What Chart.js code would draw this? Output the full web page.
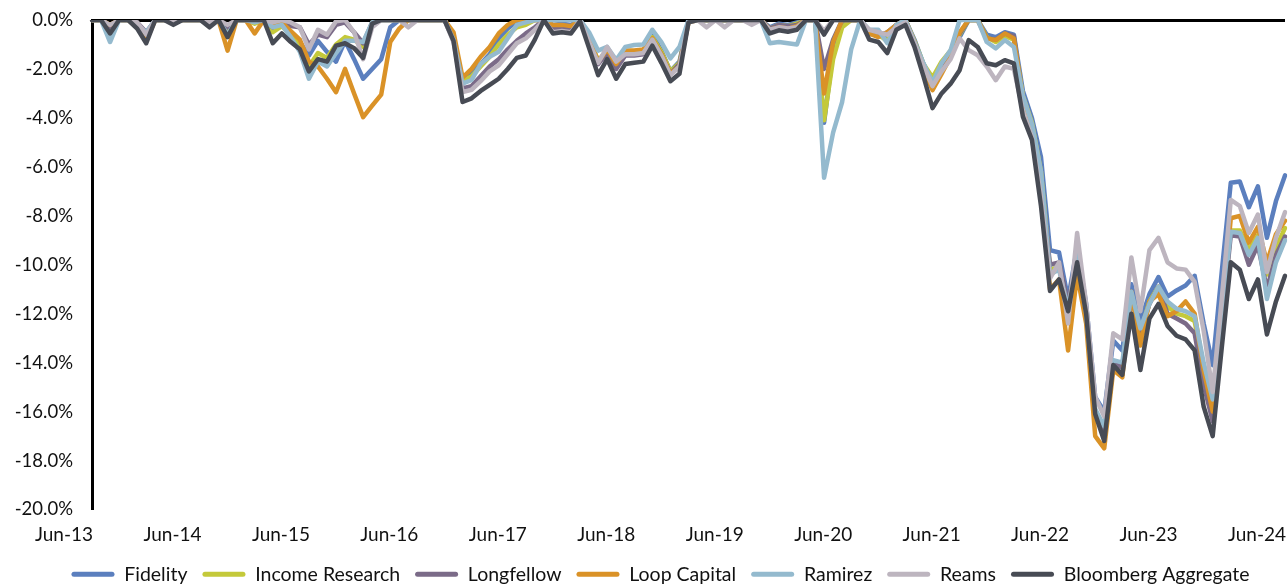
<!DOCTYPE html>
<html>
<head>
<meta charset="utf-8">
<script src="https://cdn.jsdelivr.net/npm/chart.js@4.4.1/dist/chart.umd.min.js"></script>
<style>
  html, body { margin: 0; padding: 0; background: #fff; }
  #wrap { width: 1288px; height: 586px; }
</style>
</head>
<body>
<div id="wrap"><canvas id="chart" width="1288" height="586"></canvas></div>
<script>
'use strict';

// monthly drawdown, Jun-13 .. Jun-24 (133 months)
const monthNames = ['Jan', 'Feb', 'Mar', 'Apr', 'May', 'Jun', 'Jul', 'Aug', 'Sep', 'Oct', 'Nov', 'Dec'];
const categories = [];
for (let m = 5; m <= 5 + 132; m++) {
  const yr = 13 + Math.floor(m / 12);
  categories.push(monthNames[m % 12] + '-' + yr);
}

const fidelity = [
  0, 0, -0.4, 0, 0, -0.2, -0.7, 0, 0, -0.1, 0, 0,
  0, -0.15, 0, -0.5, 0, 0, -0.1, 0, -0.35, -0.1, -0.6, -0.9,
  -1.45, -0.85, -1.3, -1.7, -0.85, -1.6, -2.4, -2.0, -1.6, -0.3, 0, 0,
  0, 0, 0, 0, -0.7, -2.55, -2.2, -1.8, -1.4, -0.75, -0.35, -0.05,
  0, 0, 0, -0.2, -0.15, -0.2, 0, -0.75, -1.7, -1.25, -1.85, -1.3,
  -1.3, -1.25, -0.6, -1.25, -2.1, -1.7, 0, 0, 0, 0, 0, 0,
  0, 0, 0, -0.3, -0.15, -0.2, -0.1, 0, 0, -4.2, -1.3, -0.2,
  0, 0, -0.45, -0.55, -0.8, -0.2, 0, -0.8, -1.8, -2.5, -1.9, -1.4,
  -0.7, 0, 0, -0.6, -0.7, -0.5, -0.6, -2.9, -4.0, -5.6, -9.4, -9.5,
  -11.4, -9.3, -11.6, -15.4, -16.0, -13.1, -13.5, -10.8, -12.3, -11.2, -10.5, -11.3,
  -11.05, -10.85, -10.45, -12.4, -14.1, -10.3, -6.65, -6.6, -7.65, -6.8, -8.9, -7.4,
  -6.35
];

const incomeResearch = [
  0, 0, -0.45, 0, 0, -0.15, -0.6, 0, 0, -0.1, 0, 0,
  0, -0.15, 0, -0.5, 0, 0, -0.15, 0, -0.5, -0.25, -0.6, -0.95,
  -1.9, -1.35, -1.55, -1.0, -0.7, -0.8, -1.1, -0.1, 0, 0, 0, 0,
  0, 0, 0, 0, -0.7, -2.5, -2.3, -1.9, -1.5, -1.0, -0.6, -0.3,
  -0.2, 0, 0, -0.3, -0.25, -0.3, 0, -0.8, -1.65, -1.3, -1.9, -1.35,
  -1.35, -1.3, -0.7, -1.3, -2.1, -1.75, -0.05, 0, 0, 0, 0, 0,
  0, 0, 0, -0.35, -0.2, -0.25, -0.15, 0, 0, -4.1, -1.6, -0.3,
  0, 0, -0.5, -0.6, -0.85, -0.25, 0, -0.85, -1.8, -2.35, -1.7, -1.25,
  -0.6, 0, 0, -0.7, -0.9, -0.65, -0.8, -3.1, -4.2, -6.2, -10.2, -10.1,
  -11.8, -9.6, -12.0, -16.0, -16.7, -14.0, -14.2, -11.2, -12.8, -11.5, -10.9, -11.7,
  -12.0, -12.1, -12.3, -14.3, -15.9, -12.2, -8.6, -8.6, -9.4, -8.8, -10.4, -9.3,
  -8.5
];

const longfellow = [
  0, 0, -0.3, 0, 0, -0.1, -0.5, 0, 0, -0.05, 0, 0,
  0, -0.1, 0, -0.3, 0, 0, 0, 0, -0.3, -0.1, -0.25, -0.3,
  -1.0, -0.6, -0.7, -0.2, -0.1, -0.5, -0.95, -0.1, 0, 0, 0, 0,
  0, 0, 0, 0, -0.8, -2.8, -2.7, -2.3, -1.9, -1.6, -1.2, -0.85,
  -0.55, -0.3, 0, -0.35, -0.35, -0.4, 0, -0.9, -1.8, -1.35, -2.0, -1.45,
  -1.45, -1.4, -0.8, -1.4, -2.2, -1.8, -0.05, 0, 0, 0, 0, 0,
  0, 0, 0, -0.35, -0.2, -0.25, -0.2, 0, 0, -2.0, -0.8, 0,
  0, 0, -0.55, -0.65, -0.5, -0.2, 0, -0.9, -1.9, -2.6, -2.0, -1.4,
  -0.55, 0, 0, -0.75, -0.8, -0.55, -0.65, -3.3, -4.4, -6.6, -10.0, -9.9,
  -11.6, -9.6, -12.0, -16.1, -16.8, -14.0, -14.2, -11.3, -12.8, -11.6, -10.9, -12.0,
  -12.2, -12.4, -12.8, -14.9, -16.4, -12.4, -8.8, -8.85, -10.0, -9.2, -11.0, -9.6,
  -8.85
];

const loopCapital = [
  0, 0, -0.2, 0, 0, -0.3, -0.82, 0, 0, -0.1, 0, 0,
  0, -0.2, 0, -1.25, 0, 0, -0.55, 0, -0.2, -0.1, -0.45, -0.8,
  -1.7, -1.9, -2.4, -2.95, -2.0, -3.0, -3.97, -3.5, -3.05, -0.9, -0.35, 0,
  0, 0, 0, 0, -0.5, -2.35, -2.0, -1.5, -1.1, -0.55, -0.2, 0,
  0, 0, 0, -0.2, -0.2, -0.25, 0, -0.75, -1.7, -1.2, -1.8, -1.25,
  -1.25, -1.2, -0.75, -1.4, -2.2, -1.9, -0.1, 0, 0, 0, 0, 0,
  0, 0, 0, -0.4, -0.3, -0.35, -0.25, 0, 0, -3.0, -0.9, 0,
  0, 0, -0.55, -0.7, -0.5, -0.2, 0, -0.9, -2.0, -2.87, -2.2, -1.5,
  -0.5, 0, 0, -0.75, -0.82, -0.55, -0.75, -3.2, -4.4, -6.8, -11.0, -10.6,
  -13.5, -10.4, -12.4, -17.0, -17.5, -14.3, -14.6, -11.1, -13.3, -11.5, -11.2, -12.1,
  -11.9, -11.5, -12.0, -14.3, -16.0, -12.2, -8.1, -8.0, -9.1, -8.45, -9.9, -8.75,
  -8.2
];

const ramirez = [
  0, 0, -0.9, 0, 0, -0.2, -0.5, 0, 0, -0.1, 0, 0,
  0, -0.2, 0, -0.6, 0, 0, -0.1, 0, -0.3, -0.2, -0.7, -1.3,
  -2.4, -1.7, -1.9, -1.35, -0.85, -0.85, -0.9, -0.1, 0, 0, 0, 0,
  0, 0, 0, 0, -0.8, -2.6, -2.45, -1.8, -1.5, -1.3, -0.75, -0.2,
  -0.1, 0, 0, 0, 0, 0, 0, -0.5, -1.25, -1.1, -1.64, -1.1,
  -1.02, -1.0, -0.4, -0.9, -1.57, -1.1, 0, 0, 0, 0, 0, 0,
  0, 0, 0, -0.95, -0.9, -0.95, -1.0, 0, 0, -6.45, -4.6, -3.35,
  -1.2, 0, -0.4, -0.4, -0.95, -0.2, 0, -0.9, -1.77, -2.55, -1.77, -1.23,
  0, 0, 0, -0.9, -1.16, -0.82, -1.1, -3.1, -4.25, -6.2, -10.4, -10.2,
  -11.8, -9.6, -12.0, -15.9, -16.6, -13.9, -14.0, -11.1, -12.6, -11.6, -10.9, -11.5,
  -11.8, -11.9, -12.1, -14.0, -15.5, -12.0, -8.65, -8.7, -9.6, -8.9, -11.4, -9.9,
  -9.0
];

const reams = [
  0, 0, -0.2, 0, 0, -0.1, -0.6, 0, 0, -0.05, 0, 0,
  0, -0.1, 0, -0.2, 0, 0, 0, 0, -0.1, 0, -0.1, -0.3,
  -1.2, -0.4, -0.6, -0.05, 0, -0.5, -1.6, -0.3, 0, 0, 0, -0.3,
  0, 0, 0, 0, -0.9, -2.95, -2.85, -2.5, -2.1, -1.85, -1.4, -0.95,
  -0.75, -0.4, 0, -0.5, -0.45, -0.5, 0, -0.9, -1.75, -1.1, -1.7, -1.4,
  -1.4, -1.35, -0.8, -1.45, -2.25, -1.9, -0.1, 0, -0.3, 0, -0.3, 0,
  0, -0.2, 0, -0.4, -0.3, -0.35, -0.3, 0, 0, -0.45, 0, 0,
  0, 0, -0.4, -0.5, -0.6, -0.3, -0.1, -0.95, -1.9, -2.7, -2.1, -1.6,
  -0.75, -1.23, -1.44, -1.9, -2.46, -1.9, -2.0, -3.7, -4.8, -7.2, -10.56, -9.9,
  -12.4, -8.7, -11.6, -15.4, -16.2, -12.8, -13.05, -9.7, -11.9, -9.4, -8.9, -9.9,
  -10.15, -10.2, -10.7, -12.7, -15.2, -11.4, -7.35, -7.6, -8.7, -7.95, -10.3, -8.9,
  -7.85
];

const bloombergAgg = [
  0, 0, -0.55, 0, 0, -0.35, -0.95, 0, 0, -0.2, 0, 0,
  0, -0.3, 0, -0.7, 0, 0, 0, 0, -0.95, -0.55, -0.9, -1.2,
  -2.1, -1.6, -1.7, -1.05, -0.95, -1.15, -1.55, -0.15, 0, 0, 0, 0,
  0, 0, 0, 0, -0.85, -3.35, -3.2, -2.9, -2.65, -2.4, -2.0, -1.55,
  -1.45, -0.8, 0, -0.55, -0.5, -0.55, -0.05, -1.15, -2.25, -1.6, -2.4, -1.8,
  -1.75, -1.7, -1.05, -1.75, -2.5, -2.2, -0.1, 0, 0, 0, 0, 0,
  0, 0, 0, -0.55, -0.42, -0.48, -0.4, 0, 0, -0.6, 0, 0,
  0, 0, -0.8, -0.9, -1.35, -0.4, -0.2, -1.1, -2.3, -3.6, -3.0, -2.6,
  -2.05, -0.82, -1.1, -1.77, -1.85, -1.64, -1.77, -3.95, -4.9, -7.6, -11.07, -10.6,
  -11.9, -9.9, -12.0, -16.1, -17.2, -14.1, -14.5, -12.0, -14.3, -12.2, -11.6, -12.5,
  -12.9, -13.05, -13.5, -15.8, -17.0, -13.4, -9.9, -10.2, -11.4, -10.6, -12.85, -11.5,
  -10.45
];

const seriesNames = ['Fidelity', 'Income Research', 'Longfellow', 'Loop Capital', 'Ramirez', 'Reams', 'Bloomberg Aggregate'];
const seriesData = [fidelity, incomeResearch, longfellow, loopCapital, ramirez, reams, bloombergAgg];
const seriesColors = ['#5B7FBE', '#C4C93A', '#7B6B88', '#DA9227', '#94BACE', '#BDB5BF', '#474B54'];

const FONT = 'Lato, "Open Sans", sans-serif';

const datasets = seriesNames.map((name, i) => ({
  label: name,
  data: seriesData[i],
  borderColor: seriesColors[i],
  backgroundColor: seriesColors[i],
  borderWidth: 4.5,
  pointRadius: 0,
  tension: 0,
  fill: false,
  borderJoinStyle: 'round',
  borderCapStyle: 'round',
  // later series sit on top, as in the source chart
  order: seriesNames.length - i,
}));

// the legend in the source sits a little right of the page centre
const legendNudge = {
  id: 'legendNudge',
  afterLayout(chart) {
    chart.legend.left += 18;
    chart.legend.right += 18;
  },
};

new Chart(document.getElementById('chart').getContext('2d'), {
  type: 'line',
  data: { labels: categories, datasets },
  plugins: [legendNudge],
  options: {
    responsive: false,
    devicePixelRatio: 1,
    animation: false,
    layout: { padding: { top: 20, right: 3, left: 0, bottom: -8 } },
    plugins: {
      tooltip: { enabled: false },
      legend: {
        position: 'bottom',
        labels: {
          color: '#111',
          font: { family: FONT, size: 19.5 },
          boxWidth: 43,
          boxHeight: 5,
          padding: 15,
          useBorderRadius: true,
          borderRadius: 2.5,
          sort: (a, b) => a.datasetIndex - b.datasetIndex,
          generateLabels(chart) {
            const items = Chart.defaults.plugins.legend.labels.generateLabels(chart);
            items.forEach(it => { it.lineWidth = 0; it.fillStyle = it.strokeStyle; });
            return items;
          },
        },
      },
    },
    scales: {
      x: {
        grid: { display: false },
        border: { display: false },
        ticks: {
          autoSkip: false,
          maxRotation: 0,
          minRotation: 0,
          padding: 6,
          labelOffset: -28,
          color: '#111',
          font: { family: FONT, size: 19 },
          callback: (v, i) => (i % 12 === 0 ? categories[i] : ''),
        },
        afterFit(scale) { scale.height = 40; scale.paddingLeft = 0; scale.paddingRight = 0; },
      },
      y: {
        min: -20,
        max: 0,
        z: 1,
        border: { display: true, color: '#000', width: 3 },
        grid: {
          drawTicks: false,
          color: ctx => (ctx.tick && ctx.tick.value === 0 ? '#000' : 'rgba(0,0,0,0)'),
          lineWidth: ctx => (ctx.tick && ctx.tick.value === 0 ? 3 : 0),
        },
        ticks: {
          stepSize: 2,
          padding: 19,
          color: '#111',
          font: { family: FONT, size: 18.5 },
          callback: v => v.toFixed(1) + '%',
        },
        afterFit(scale) { scale.width = 92; scale.paddingTop = 0; scale.paddingBottom = 0; },
      },
    },
  },
});
</script>
</body>
</html>
